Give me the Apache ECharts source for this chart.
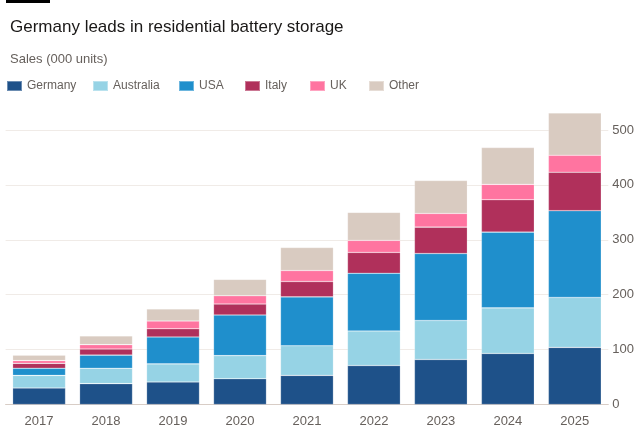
<!DOCTYPE html>
<html>
<head>
<meta charset="utf-8">
<script src="https://cdn.jsdelivr.net/npm/echarts@6/dist/echarts.min.js"></script>
<style>
  html, body { margin: 0; padding: 0; background: #fff; }
  #chart { width: 637px; height: 435px; }
</style>
</head>
<body>
<div id="chart"></div>
<script>
// sales, thousand units
const years = ['2017', '2018', '2019', '2020', '2021', '2022', '2023', '2024', '2025'];
const germany = [30, 38, 41, 47, 53, 71, 82, 93, 104];
const australia = [23, 28, 33, 42, 54, 63, 71, 83, 91];
const usa = [13, 24, 49, 74, 89, 105, 122, 138, 158];
const italy = [9, 11, 15, 20, 28, 38, 48, 59, 70];
const uk = [5, 8, 14, 15, 20, 22, 25, 28, 31];
const other = [10, 16, 22, 30, 42, 51, 60, 67, 77];
const yTicks = [0, 100, 200, 300, 400, 500];

const font = '"Liberation Sans", Arial, sans-serif';
const grey = '#66605c';

const seriesDefs = [
  { name: 'Germany', data: germany, color: '#1e5189' },
  { name: 'Australia', data: australia, color: '#96d3e5' },
  { name: 'USA', data: usa, color: '#1f8fcc' },
  { name: 'Italy', data: italy, color: '#b0305b' },
  { name: 'UK', data: uk, color: '#ff74a0' },
  { name: 'Other', data: other, color: '#d9cbc1' }
];
const legendX = [6, 92, 178, 244, 309, 368];

let myChart = echarts.init(document.getElementById('chart'));
let option = {
  backgroundColor: '#fff',
  animation: false,
  textStyle: { fontFamily: font },
  title: [
    {
      text: 'Germany leads in residential battery storage',
      left: 5, top: 14,
      textStyle: { fontFamily: font, fontSize: 17, fontWeight: 'normal', color: '#1a1817' }
    },
    {
      text: 'Sales (000 units)',
      left: 5, top: 48,
      textStyle: { fontFamily: font, fontSize: 13, fontWeight: 'normal', color: grey }
    }
  ],
  legend: seriesDefs.map((s, i) => ({
    data: [s.name],
    left: legendX[i], top: 80,
    itemWidth: 15, itemHeight: 10, itemGap: 6,
    icon: 'rect',
    textStyle: { fontFamily: font, fontSize: 12, color: grey },
    padding: 0
  })),
  graphic: [
    { type: 'rect', shape: { x: 6, y: 0, width: 44, height: 3 }, style: { fill: '#000' } }
  ],
  grid: { left: 5.6, right: 24.3, top: 130, bottom: 30.5 },
  xAxis: {
    type: 'category',
    data: years,
    axisLine: { lineStyle: { color: '#d8cdc6' } },
    axisTick: { alignWithLabel: true, length: 5, lineStyle: { color: '#d8cdc6' } },
    axisLabel: { fontFamily: font, fontSize: 13, color: grey, margin: 10 }
  },
  yAxis: {
    type: 'value',
    position: 'right',
    min: 0, max: yTicks[yTicks.length - 1], interval: 100,
    axisLine: { show: false },
    axisTick: { show: false },
    axisLabel: { fontFamily: font, fontSize: 13, color: grey, margin: 4 },
    splitLine: { lineStyle: { color: '#f0ebe7', width: 1 } }
  },
  series: seriesDefs.map(s => ({
    name: s.name,
    type: 'bar',
    stack: 'total',
    data: s.data,
    clip: false,
    barCategoryGap: '21%',
    itemStyle: { color: s.color, borderColor: 'rgba(255,255,255,0.35)', borderWidth: 0.6 }
  }))
};
myChart.setOption(option);
window.addEventListener('resize', function () {
  myChart.resize();
});
</script>
</body>
</html>
